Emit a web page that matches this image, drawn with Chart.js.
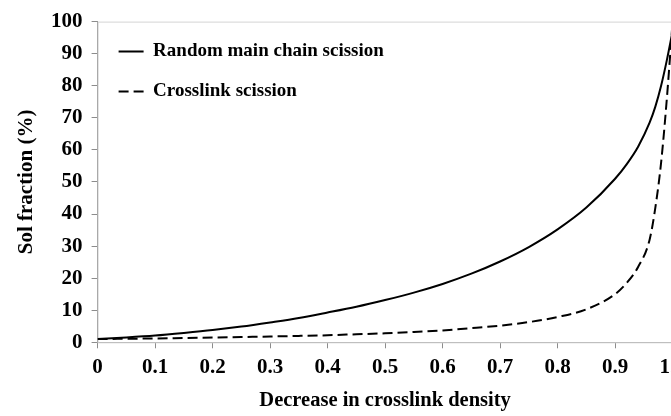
<!DOCTYPE html>
<html>
<head>
<meta charset="utf-8">
<script src="https://cdn.jsdelivr.net/npm/chart.js@4"></script>
<style>
  html, body { margin: 0; padding: 0; background: #fff; overflow: hidden; }
  #wrap { width: 700px; height: 416px; }
</style>
</head>
<body>
<div id="wrap"><canvas id="grafico"></canvas></div>
<script>
// decrease in crosslink density (x)
const densidade = [0, 0.05, 0.1, 0.15, 0.2, 0.25, 0.3, 0.35, 0.4, 0.45, 0.5, 0.55, 0.6, 0.65, 0.7, 0.75, 0.8, 0.85, 0.9, 0.92, 0.94, 0.96, 0.97, 0.98, 0.99, 1.0];
// sol fraction (%)
const cisaoAleatoria = [1.0, 1.5, 2.1, 2.9, 3.8, 4.9, 6.2, 7.6, 9.3, 11.1, 13.2, 15.5, 18.2, 21.4, 25.2, 29.7, 35.2, 42, 51, 55.5, 61, 68.5, 73.5, 80, 88, 97];
const cisaoReticulacao = [1.0, 1.1, 1.2, 1.35, 1.5, 1.65, 1.8, 2.0, 2.2, 2.5, 2.8, 3.2, 3.7, 4.4, 5.2, 6.3, 7.9, 10.3, 15, 18.5, 23.5, 32, 42, 56, 76, 100];
const nomes = ['Random main chain scission', 'Crosslink scission'];

const fonte = 'Liberation Serif, "Times New Roman", serif';

function pontos(ys) {
    return densidade.map((x, i) => ({ x: x, y: ys[i] }));
}

// plot area frame (light grey, like the original)
const moldura = {
    id: 'moldura',
    beforeDatasetsDraw(chart) {
        const a = chart.chartArea;
        const ctx = chart.ctx;
        ctx.save();
        ctx.strokeStyle = '#d4d4d4';
        ctx.lineWidth = 1;
        ctx.strokeRect(a.left + 0.5, a.top + 0.5, a.right - a.left, a.bottom - a.top);
        ctx.restore();
    }
};

const ctx = document.getElementById('grafico').getContext('2d');
const chart = new Chart(ctx, {
    type: 'line',
    data: {
        datasets: [{
            label: nomes[0],
            data: pontos(cisaoAleatoria),
            borderColor: '#000',
            borderWidth: 2,
            pointRadius: 0,
            cubicInterpolationMode: 'monotone',
            fill: false
        }, {
            label: nomes[1],
            data: pontos(cisaoReticulacao),
            borderColor: '#000',
            borderWidth: 2,
            borderDash: [10, 5],
            pointRadius: 0,
            cubicInterpolationMode: 'monotone',
            fill: false
        }]
    },
    options: {
        responsive: true,
        maintainAspectRatio: false,
        animation: false,
        layout: { padding: { top: 17.3, right: 27.4, bottom: 0, left: 0 } },
        plugins: {
            tooltip: { enabled: false },
            legend: {
                position: 'chartArea',
                align: 'start',
                // empty title only pushes the items down inside the plot
                title: {
                    display: true,
                    text: ' ',
                    padding: 0,
                    font: { size: 17.5 }
                },
                labels: {
                    color: '#000',
                    font: { family: fonte, size: 19, weight: 'bold' },
                    usePointStyle: true,
                    pointStyle: 'line',
                    pointStyleWidth: 25,
                    boxHeight: 19,
                    padding: 21,
                    generateLabels(chart) {
                        const itens = Chart.defaults.plugins.legend.labels.generateLabels(chart);
                        itens.forEach((item, i) => {
                            item.lineDash = chart.data.datasets[i].borderDash || [];
                            item.lineWidth = 2;
                            item.strokeStyle = '#000';
                        });
                        return itens;
                    }
                }
            }
        },
        scales: {
            x: {
                type: 'linear',
                min: 0,
                max: 1,
                ticks: {
                    stepSize: 0.1,
                    color: '#000',
                    padding: 7,
                    maxRotation: 0,
                    font: { family: fonte, size: 21, weight: 'bold' }
                },
                grid: { drawOnChartArea: false, tickLength: 6, color: '#8c8c8c' },
                border: { color: '#8c8c8c' },
                title: {
                    display: true,
                    text: 'Decrease in crosslink density',
                    color: '#000',
                    padding: { top: 0, bottom: 3 },
                    font: { family: fonte, size: 20.5, weight: 'bold' }
                },
                afterFit(scale) { scale.height = 73.7; }
            },
            y: {
                min: 0,
                max: 100,
                ticks: {
                    stepSize: 10,
                    color: '#000',
                    padding: 9,
                    font: { family: fonte, size: 21, weight: 'bold' }
                },
                grid: { drawOnChartArea: false, tickLength: 6, color: '#8c8c8c' },
                border: { color: '#8c8c8c' },
                title: {
                    display: true,
                    text: 'Sol fraction (%)',
                    color: '#000',
                    padding: { top: 14, bottom: 0 },
                    font: { family: fonte, size: 21, weight: 'bold' }
                },
                afterFit(scale) { scale.width = 97.6; }
            }
        }
    },
    plugins: [moldura]
});
</script>
</body>
</html>
